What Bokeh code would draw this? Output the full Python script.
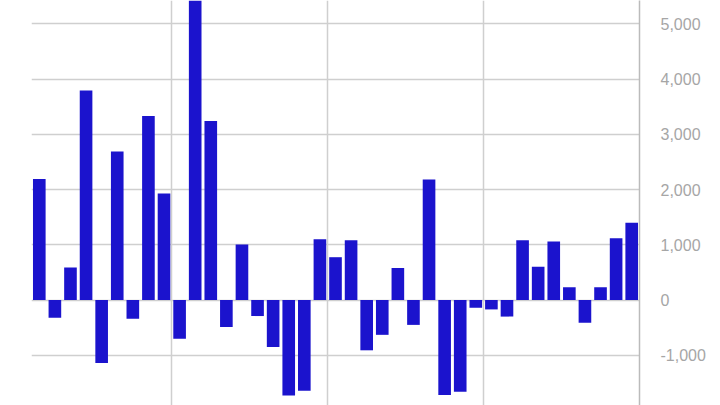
from bokeh.plotting import figure
from bokeh.models import Range1d, FixedTicker, SingleIntervalTicker, NumeralTickFormatter, ColumnDataSource
from bokeh.embed import file_html
from bokeh.resources import INLINE

# data
periods = list(range(39))
values = [2190, -320, 590, 3790, -1140, 2690, -340, 3330, 1930, -700,
          5800, 3240, -490, 1005, -290, -850, -1730, -1640, 1100, 775,
          1080, -910, -630, 580, -450, 2180, -1720, -1660, -140, -170,
          -300, 1080, 600, 1060, 230, -410, 230, 1120, 1400]
group_edges = [8.5, 18.5, 28.5]

src = ColumnDataSource(data=dict(x=periods, top=values))

p = figure(width=712, height=405, output_backend="svg", toolbar_location=None,
           x_range=Range1d(-0.5, 38.5), y_range=Range1d(-1909, 5421),
           y_axis_location="right", min_border_left=31, min_border_right=73,
           min_border_top=0, min_border_bottom=0)

p.vbar(x="x", top="top", bottom=0, width=0.81, source=src,
       fill_color="#1b13cd", line_color=None)

p.xaxis.visible = False
p.xgrid.ticker = FixedTicker(ticks=group_edges)
for g in (p.xgrid, p.ygrid):
    g.grid_line_color = "#cfcfcf"
    g.grid_line_width = 1.5

ax = p.yaxis[0]
ax.ticker = SingleIntervalTicker(interval=1000)
ax.formatter = NumeralTickFormatter(format="0,0")
ax.major_tick_line_color = None
ax.minor_tick_line_color = None
ax.axis_line_color = "#bbbbbb"
ax.axis_line_width = 1.5
ax.major_label_text_color = "#a6a6a6"
ax.major_label_text_font = "Liberation Sans"
ax.major_label_text_font_size = "16px"
ax.major_label_standoff = 15

p.outline_line_color = None
p.background_fill_color = "white"

open("out.html", "w").write(file_html(p, INLINE))
